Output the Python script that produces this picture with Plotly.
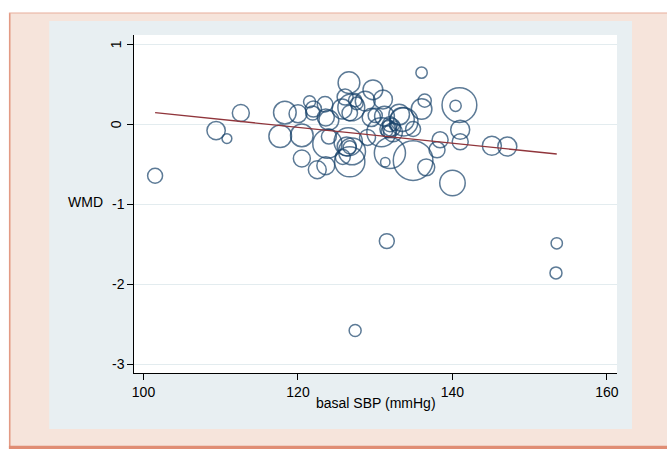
import plotly.graph_objects as go

# ---- data ----
sbp = [101.5, 109.4, 110.8, 112.6, 118.3, 117.7, 120.0, 120.5, 120.5, 121.5,
       122.0, 121.9, 123.5, 123.6, 124.0, 123.8, 124.0, 122.5, 123.6, 125.7,
       126.1, 126.6, 126.7, 126.9, 127.4, 127.6, 128.7, 129.7, 131.0, 126.5,
       126.3, 126.7, 127.0, 126.7, 125.8, 129.0, 129.5, 130.0, 130.8, 131.2,
       131.7, 131.9, 132.1, 132.3, 131.5, 132.5, 131.3, 131.9, 133.1, 133.7,
       133.5, 134.9, 134.9, 136.6, 136.0, 136.4, 136.0, 138.0, 138.4, 140.0,
       140.9, 140.4, 141.0, 141.0, 145.1, 147.1, 131.5, 127.4, 153.5, 153.4]
wmd = [-0.645, -0.08, -0.18, 0.14, 0.145, -0.15, 0.13, -0.14, -0.43, 0.28,
       0.19, 0.14, 0.25, 0.085, 0.05, -0.245, -0.155, -0.57, -0.52, 0.19,
       0.34, 0.52, 0.14, 0.21, 0.30, 0.26, 0.29, 0.43, 0.31, -0.22,
       -0.28, -0.29, -0.34, -0.47, -0.41, -0.165, 0.085, 0.11, -0.10, 0.10,
       -0.06, 0.0, -0.04, -0.10, -0.09, -0.02, -0.475, -0.36, 0.12, 0.03,
       0.06, -0.06, -0.455, -0.54, 0.645, 0.295, 0.19, -0.32, -0.195, -0.735,
       0.24, 0.23, -0.07, -0.22, -0.27, -0.28, -1.4625, -2.58, -1.49, -1.86]
weight = [28, 42, 12, 36, 64, 64, 40, 64, 36, 18,
          32, 25, 30, 36, 49, 106, 28, 40, 40, 49,
          32, 59, 30, 90, 22, 20, 49, 49, 45, 100,
          45, 22, 90, 114, 28, 32, 42, 25, 106, 49,
          36, 28, 42, 45, 16, 12, 11, 121, 53, 100,
          72, 28, 196, 36, 16, 22, 53, 32, 32, 81,
          151, 16, 45, 32, 45, 45, 28, 18, 16, 18]
fit_sbp = [101.5, 153.5]
fit_wmd = [0.145, -0.373]

xticks = [100, 120, 140, 160]
yticks = [-3, -2, -1, 0, 1]
ytick_labels = ["-3", "-2", "-1", "0", "1"]
x_title = "basal SBP (mmHg)"
y_title = "WMD"

# ---- layout geometry (pixels) ----
FW, FH = 667, 449
L, R, T, B = 134, 616.7, 35, 373.3


def px(x):
    return (x - L) / (R - L)


def py(y):
    return (B - y) / (B - T)


FONT = "Liberation Sans, Arial, sans-serif"
NAVY = "#17426a"
MAROON = "#90353b"

fig = go.Figure()
fig.add_trace(go.Scatter(
    x=sbp, y=wmd, mode="markers",
    marker=dict(symbol="circle-open", color=NAVY, size=weight,
                sizemode="area", sizeref=0.25, line=dict(width=1.5, color=NAVY)),
    showlegend=False, hoverinfo="x+y"))
fig.add_trace(go.Scatter(
    x=fit_sbp, y=fit_wmd, mode="lines",
    line=dict(color=MAROON, width=1.3), showlegend=False))

shapes = [
    # pink outer frame
    dict(type="rect", xref="paper", yref="paper", x0=px(9.5), x1=px(720),
         y0=py(470), y1=py(13), fillcolor="#f6e4db", line=dict(width=0), layer="below"),
    dict(type="line", xref="paper", yref="paper", x0=px(9.8), x1=px(9.8),
         y0=py(13), y1=py(449), line=dict(color="#e39a84", width=1.6), layer="below"),
    dict(type="line", xref="paper", yref="paper", x0=px(9), x1=px(720),
         y0=py(13), y1=py(13), line=dict(color="#e8ad9c", width=1.2), layer="below"),
    dict(type="rect", xref="paper", yref="paper", x0=px(9), x1=px(720),
         y0=py(452), y1=py(446), fillcolor="#e08d74", line=dict(width=0), layer="below"),
    # light blue graph region
    dict(type="rect", xref="paper", yref="paper", x0=px(49.3), x1=px(631.7),
         y0=py(429.3), y1=py(21), fillcolor="#e8eff2", line=dict(width=0), layer="below"),
    # white plot region
    dict(type="rect", xref="paper", yref="paper", x0=0, x1=1, y0=0, y1=1,
         fillcolor="white", line=dict(width=0), layer="below"),
]

annotations = []
for v, lab in zip(yticks, ytick_labels):
    if v >= 0:
        annotations.append(dict(xref="paper", yref="y", x=px(116), y=v, text=lab,
                                showarrow=False, textangle=-90, xanchor="center",
                                yanchor="middle", borderpad=0,
                                font=dict(family=FONT, size=14, color="black")))
    else:
        annotations.append(dict(xref="paper", yref="y", x=px(126), y=v, text=lab,
                                showarrow=False, xanchor="right", yanchor="middle",
                                borderpad=0,
                                font=dict(family=FONT, size=14, color="black")))
annotations.append(dict(xref="paper", yref="paper", x=px(104.5), y=py(202), text=y_title,
                        showarrow=False, xanchor="right", yanchor="middle", borderpad=0,
                        font=dict(family=FONT, size=14, color="black")))
annotations.append(dict(xref="paper", yref="paper", x=px(375.5), y=py(403), text=x_title,
                        showarrow=False, xanchor="center", yanchor="middle", borderpad=0,
                        font=dict(family=FONT, size=14, color="black")))

fig.update_layout(
    width=FW, height=FH,
    margin=dict(l=L, r=FW - R, t=T, b=FH - B, pad=0),
    paper_bgcolor="white", plot_bgcolor="white",
    shapes=shapes, annotations=annotations,
    font=dict(family=FONT, size=14, color="black"),
    xaxis=dict(range=[98.77, 161.3], tickvals=xticks, showgrid=False, zeroline=False,
               showline=True, linecolor="black", linewidth=1, ticks="outside",
               ticklen=6, tickcolor="black", tickwidth=1,
               tickfont=dict(family=FONT, size=14, color="black")),
    yaxis=dict(range=[-3.1125, 1.116], tickvals=yticks, showticklabels=False,
               showgrid=True, gridcolor="#e3ecef", gridwidth=1, zeroline=False,
               showline=True, linecolor="black", linewidth=1, ticks="outside",
               ticklen=6, tickcolor="black", tickwidth=1),
)

fig.write_html("out.html")
